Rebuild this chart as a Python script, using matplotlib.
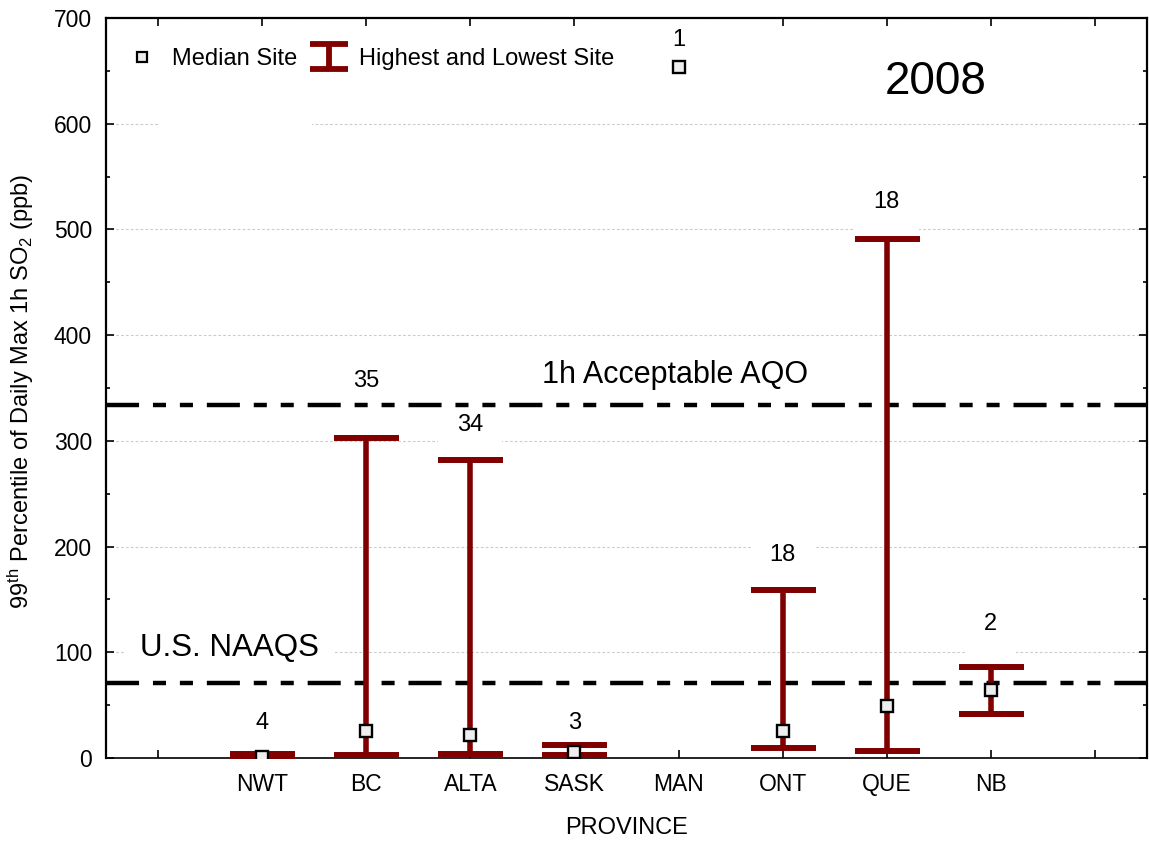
import numpy as np
import matplotlib
matplotlib.use("Agg")
import matplotlib.pyplot as plt
from matplotlib.lines import Line2D
from matplotlib.patches import Rectangle
from matplotlib.legend_handler import HandlerBase

plt.rcParams['font.family'] = ['Liberation Sans', 'DejaVu Sans']
plt.rcParams['mathtext.fontset'] = 'custom'
plt.rcParams['mathtext.rm'] = 'Liberation Sans'
plt.rcParams['mathtext.it'] = 'Liberation Sans:italic'
plt.rcParams['lines.scale_dashes'] = False

# 99th percentile of daily max 1h SO2 by province, 2008
provinces = ["NWT", "BC", "ALTA", "SASK", "MAN", "ONT", "QUE", "NB"]
site_high = [4, 303, 282, 12, np.nan, 159, 491, 86]
site_low = [1, 3, 4, 3, np.nan, 9, 7, 42]
site_median = [1, 26, 22, 6, 654, 26, 49, 64]
n_sites = [4, 35, 34, 3, 1, 18, 18, 2]

aqo_acceptable = 334
us_naaqs = 71

# how far above each bar the site count sits (ppb)
count_offsets = [29, 54, 33, 21, 25, 33, 35, 41]

bar_color = "#800000"
dash_style = (0, (23.8, 10, 9.4, 10, 9.4, 10))

x = np.arange(1, len(provinces) + 1)
high = np.array(site_high, dtype=float)
low = np.array(site_low, dtype=float)
med = np.array(site_median, dtype=float)
has_range = np.isfinite(high)

fig = plt.figure(figsize=(11.49, 8.41), dpi=100)
ax = fig.add_axes([106 / 1149, 1 - 758 / 841, 1041 / 1149, 740 / 841])

ax.set_xlim(-0.5, 9.5)
ax.set_ylim(0, 700)
ax.set_axisbelow(True)
ax.yaxis.grid(True, color="#cccccc", linestyle=(0, (2, 1.5)), linewidth=0.8)

# highest/lowest site bars
ax.errorbar(x[has_range], med[has_range],
            yerr=[med[has_range] - low[has_range], high[has_range] - med[has_range]],
            fmt="none", ecolor=bar_color, elinewidth=4, capsize=23.4, capthick=4.3,
            zorder=3)

# median site markers
ax.plot(x, med, ls="none", marker="s", ms=8.2, mfc="#eeeeee", mec="black",
        mew=1.7, zorder=4)

# objective lines
ax.axhline(aqo_acceptable, color="black", lw=3.2, linestyle=dash_style,
           dash_capstyle="butt", zorder=2)
ax.axhline(us_naaqs, color="black", lw=3.2, linestyle=dash_style,
           dash_capstyle="butt", zorder=2)

# site counts above each province
tops = np.where(has_range, high, med)
for xi, top, off, n in zip(x, tops, count_offsets, n_sites):
    ax.text(xi, top + off, str(n), ha="center", va="center", fontsize=17,
            zorder=1.5,
            bbox=dict(boxstyle="square,pad=0.8", fc="white", ec="none"))

ax.text(4.97, 362, "1h Acceptable AQO", ha="center", va="center", fontsize=22,
        zorder=1.5)
ax.text(0.69, 104, "U.S. NAAQS", ha="center", va="center", fontsize=22.5,
        zorder=1.5, bbox=dict(boxstyle="square,pad=0.5", fc="white", ec="none"))
ax.text(7.47, 639, "2008", ha="center", va="center", fontsize=33)

# blank patch over the 600 grid line under the legend
ax.add_patch(Rectangle((0.0, 585), 1.48, 30, fc="white", ec="none", zorder=1.2))

# axes and ticks
ax.set_xticks(np.arange(0, 10))
ax.set_xticklabels([""] + provinces + [""])
ax.set_yticks(np.arange(0, 701, 100))
ax.set_yticks(np.arange(50, 700, 100), minor=True)
ax.tick_params(axis="both", which="major", direction="in", labelsize=16.5,
               top=True, right=True, length=6, width=1.2)
ax.tick_params(axis="y", which="major", pad=10)
ax.tick_params(axis="x", which="major", pad=11)
ax.tick_params(axis="y", which="minor", direction="in", right=True, length=3,
               width=1.2)
for side in ["left", "top", "right"]:
    ax.spines[side].set_linewidth(1.6)
ax.spines["bottom"].set_linewidth(1.2)

ax.set_xlabel("PROVINCE", fontsize=17, labelpad=15)
fig.text(21 / 1149, 1 - 391 / 841,
         r"99$^{\rm th}$ Percentile of Daily Max 1h SO$_2$ (ppb)",
         rotation=90, ha="center", va="center", fontsize=17)


class CapBarHandler(HandlerBase):
    def create_artists(self, legend, orig_handle, xdescent, ydescent, width,
                       height, fontsize, trans):
        x0, x1 = -xdescent, -xdescent + width
        cx = (x0 + x1) / 2
        cy = -ydescent + height / 2
        half = 9
        parts = [Line2D([x0, x1], [cy + half] * 2),
                 Line2D([x0, x1], [cy - half] * 2),
                 Line2D([cx, cx], [cy - half, cy + half])]
        for p in parts:
            p.set_color(bar_color)
            p.set_linewidth(4.2)
            p.set_solid_capstyle("butt")
            p.set_transform(trans)
        return parts


median_handle = Line2D([], [], ls="none", marker="s", ms=7.5, mfc="#eeeeee",
                       mec="black", mew=1.6)
range_handle = Line2D([], [])
ax.legend([median_handle, range_handle], ["Median Site", "Highest and Lowest Site"],
          handler_map={range_handle: CapBarHandler()},
          loc="center left", bbox_to_anchor=((123 - 106) / 1041, (758 - 59) / 740),
          ncol=2, frameon=False, fontsize=17, handlelength=1.6,
          handletextpad=0.47, columnspacing=0.55, borderpad=0, borderaxespad=0)

fig.savefig("out.png", dpi=100)
